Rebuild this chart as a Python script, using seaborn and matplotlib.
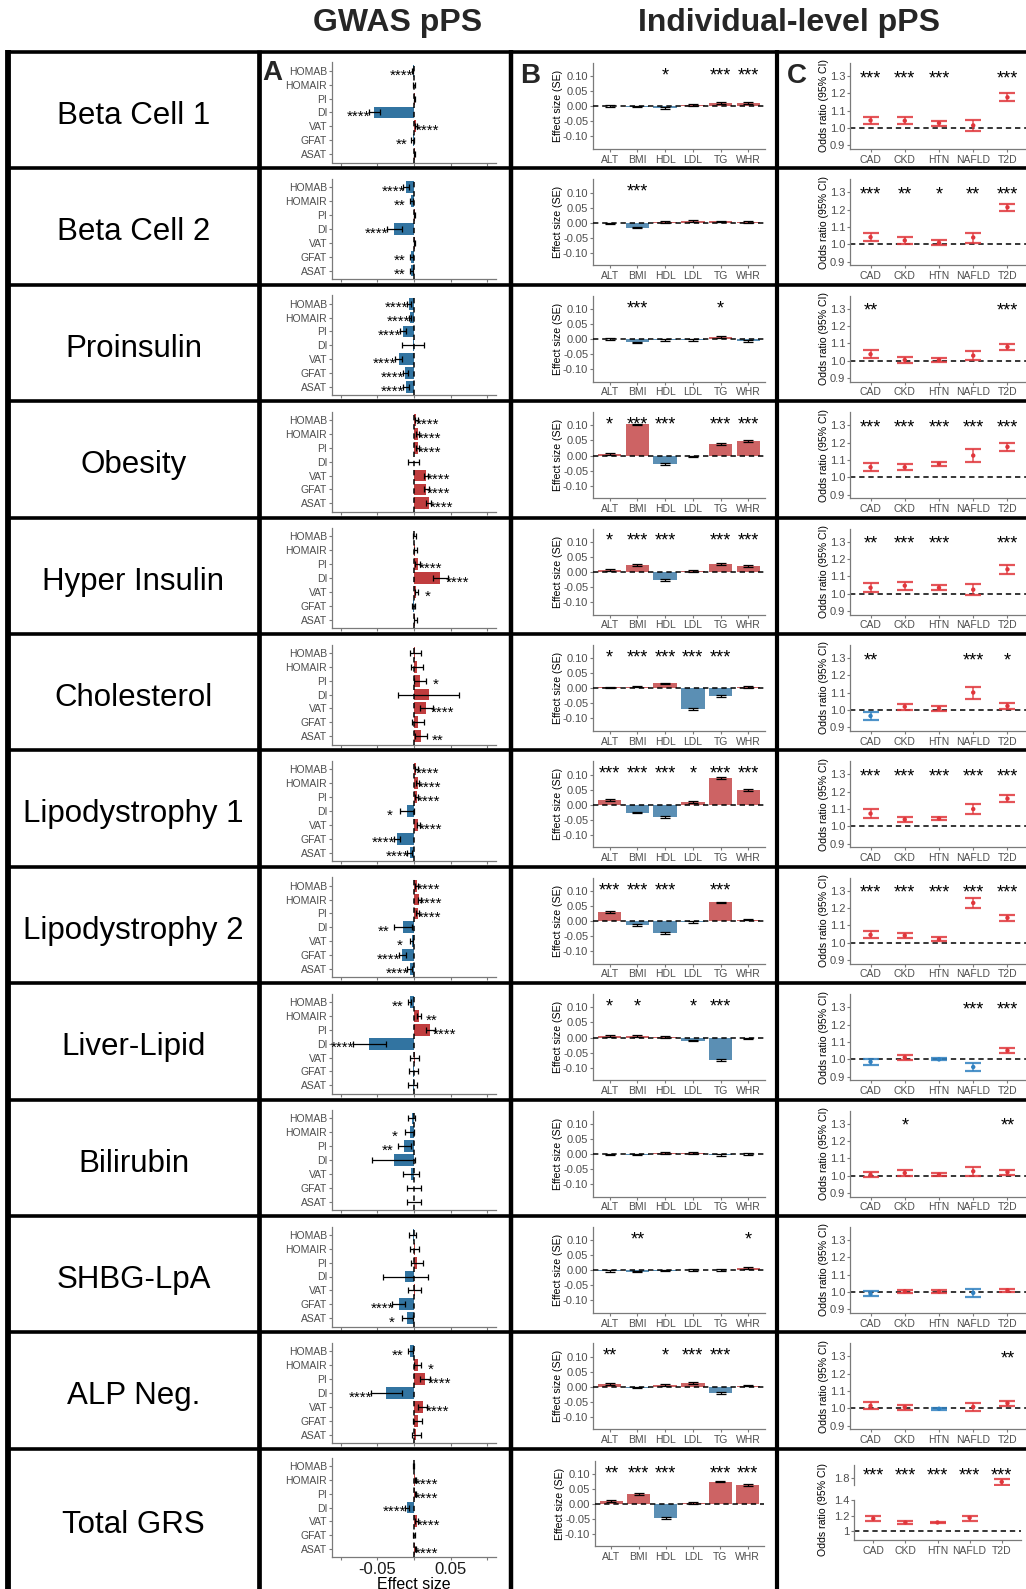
import numpy as np
import pandas as pd
import matplotlib
matplotlib.use("Agg")
import matplotlib.pyplot as plt
import matplotlib.transforms as mtransforms
from matplotlib.lines import Line2D
import seaborn as sns

# ---------------- data ----------------
row_names = ["Beta Cell 1", "Beta Cell 2", "Proinsulin", "Obesity", "Hyper Insulin",
             "Cholesterol", "Lipodystrophy 1", "Lipodystrophy 2", "Liver-Lipid",
             "Bilirubin", "SHBG-LpA", "ALP Neg.", "Total GRS"]
a_traits = ["HOMAB", "HOMAIR", "PI", "DI", "VAT", "GFAT", "ASAT"]
b_traits = ["ALT", "BMI", "HDL", "LDL", "TG", "WHR"]
c_traits = ["CAD", "CKD", "HTN", "NAFLD", "T2D"]

a_effect = [
    [-0.002, 0.000, 0.001, -0.054, 0.003, -0.002, 0.001],
    [-0.011, -0.004, 0.001, -0.027, 0.001, -0.004, -0.004],
    [-0.007, -0.0055, -0.015, -0.002, -0.021, -0.012, -0.011],
    [0.003, 0.005, 0.005, -0.0005, 0.016, 0.017, 0.020],
    [0.0005, 0.002, 0.005, 0.036, 0.003, -0.001, 0.002],
    [0.002, 0.004, 0.008, 0.020, 0.017, 0.005, 0.010],
    [0.003, 0.005, 0.004, -0.0095, 0.006, -0.023, -0.006],
    [0.004, 0.007, 0.005, -0.015, -0.003, -0.016, -0.006],
    [-0.006, 0.007, 0.022, -0.061, 0.001, -0.001, -0.002],
    [-0.003, -0.006, -0.013, -0.028, -0.004, 0.000, 0.000],
    [-0.002, 0.001, 0.004, -0.012, 0.001, -0.021, -0.009],
    [-0.005, 0.005, 0.015, -0.038, 0.012, 0.005, 0.003],
    [-0.0005, 0.002, 0.002, -0.0095, 0.004, 0.000, 0.002],
]
a_se = [
    [0.001, 0.001, 0.001, 0.0075, 0.0015, 0.0015, 0.001],
    [0.0035, 0.002, 0.001, 0.010, 0.001, 0.002, 0.002],
    [0.003, 0.002, 0.0045, 0.015, 0.005, 0.0035, 0.004],
    [0.002, 0.002, 0.002, 0.0073, 0.003, 0.003, 0.003],
    [0.002, 0.002, 0.003, 0.010, 0.002, 0.002, 0.002],
    [0.007, 0.0085, 0.008, 0.042, 0.0085, 0.008, 0.008],
    [0.002, 0.002, 0.002, 0.009, 0.002, 0.004, 0.003],
    [0.002, 0.002, 0.002, 0.012, 0.002, 0.005, 0.003],
    [0.002, 0.003, 0.006, 0.023, 0.0064, 0.006, 0.006],
    [0.005, 0.006, 0.0095, 0.029, 0.011, 0.010, 0.010],
    [0.005, 0.0064, 0.0084, 0.031, 0.0086, 0.0086, 0.0075],
    [0.003, 0.0045, 0.0064, 0.021, 0.0064, 0.0064, 0.006],
    [0.001, 0.001, 0.001, 0.003, 0.002, 0.001, 0.001],
]
a_stars = [
    ["****", "", "", "****", "****", "**", ""],
    ["****", "**", "", "****", "", "**", "**"],
    ["****", "****", "****", "", "****", "****", "****"],
    ["****", "****", "****", "", "****", "****", "****"],
    ["", "", "****", "****", "*", "", ""],
    ["", "", "*", "", "****", "", "**"],
    ["****", "****", "****", "*", "****", "****", "****"],
    ["****", "****", "****", "**", "*", "****", "****"],
    ["**", "**", "****", "****", "", "", ""],
    ["", "*", "**", "", "", "", ""],
    ["", "", "", "", "", "****", "*"],
    ["**", "*", "****", "****", "****", "", ""],
    ["", "****", "****", "****", "****", "", "****"],
]

b_effect = [
    [0.001, -0.001, -0.006, 0.003, 0.011, 0.011],
    [-0.002, -0.017, 0.003, 0.005, 0.004, 0.002],
    [0.000, -0.011, -0.002, -0.002, 0.008, -0.005],
    [0.006, 0.104, -0.027, -0.003, 0.037, 0.047],
    [0.006, 0.022, -0.026, 0.002, 0.026, 0.019],
    [0.003, 0.005, 0.016, -0.070, -0.026, 0.004],
    [0.015, -0.026, -0.042, 0.010, 0.088, 0.050],
    [0.030, -0.012, -0.040, -0.003, 0.062, 0.005],
    [0.005, 0.005, 0.002, -0.010, -0.076, -0.002],
    [-0.001, -0.003, 0.004, 0.002, -0.004, 0.001],
    [-0.002, -0.004, -0.001, 0.001, 0.002, 0.008],
    [0.008, -0.003, 0.006, 0.012, -0.022, 0.003],
    [0.009, 0.032, -0.048, 0.004, 0.075, 0.064],
]
b_se = [
    [0.002, 0.002, 0.003, 0.003, 0.003, 0.003],
    [0.002, 0.002, 0.003, 0.003, 0.003, 0.003],
    [0.002, 0.002, 0.003, 0.003, 0.003, 0.003],
    [0.003, 0.002, 0.003, 0.003, 0.003, 0.003],
    [0.003, 0.003, 0.003, 0.003, 0.004, 0.004],
    [0.002, 0.002, 0.003, 0.003, 0.003, 0.003],
    [0.003, 0.003, 0.003, 0.003, 0.003, 0.003],
    [0.003, 0.003, 0.003, 0.003, 0.003, 0.003],
    [0.002, 0.002, 0.002, 0.003, 0.003, 0.002],
    [0.002, 0.002, 0.003, 0.003, 0.003, 0.003],
    [0.002, 0.002, 0.002, 0.002, 0.003, 0.003],
    [0.003, 0.002, 0.003, 0.003, 0.003, 0.002],
    [0.003, 0.003, 0.003, 0.003, 0.003, 0.004],
]
b_stars = [
    ["", "", "*", "", "***", "***"],
    ["", "***", "", "", "", ""],
    ["", "***", "", "", "*", ""],
    ["*", "***", "***", "", "***", "***"],
    ["*", "***", "***", "", "***", "***"],
    ["*", "***", "***", "***", "***", ""],
    ["***", "***", "***", "*", "***", "***"],
    ["***", "***", "***", "", "***", ""],
    ["*", "*", "", "*", "***", ""],
    ["", "", "", "", "", ""],
    ["", "**", "", "", "", "*"],
    ["**", "", "*", "***", "***", ""],
    ["**", "***", "***", "", "***", "***"],
]

c_or = [
    [1.044, 1.042, 1.028, 1.015, 1.177],
    [1.042, 1.023, 1.010, 1.040, 1.214],
    [1.038, 1.005, 1.005, 1.030, 1.080],
    [1.058, 1.058, 1.077, 1.125, 1.175],
    [1.034, 1.046, 1.034, 1.023, 1.140],
    [0.966, 1.019, 1.010, 1.101, 1.023],
    [1.074, 1.040, 1.046, 1.100, 1.160],
    [1.046, 1.042, 1.021, 1.230, 1.144],
    [0.985, 1.010, 0.999, 0.955, 1.050],
    [1.005, 1.015, 1.005, 1.025, 1.020],
    [0.990, 1.004, 1.002, 0.995, 1.010],
    [1.015, 1.007, 0.998, 1.009, 1.030],
    [1.160, 1.110, 1.110, 1.170, 1.750],
]
c_lo = [
    [1.021, 1.021, 1.011, 0.985, 1.154],
    [1.019, 1.004, 0.998, 1.010, 1.190],
    [1.015, 0.990, 0.995, 1.005, 1.065],
    [1.033, 1.040, 1.063, 1.090, 1.154],
    [1.010, 1.019, 1.019, 0.990, 1.115],
    [0.941, 1.002, 0.996, 1.065, 1.004],
    [1.048, 1.025, 1.035, 1.072, 1.140],
    [1.025, 1.025, 1.008, 1.200, 1.125],
    [0.965, 0.995, 0.993, 0.930, 1.035],
    [0.990, 1.000, 0.998, 1.000, 1.005],
    [0.975, 0.997, 0.995, 0.972, 1.000],
    [0.995, 0.992, 0.990, 0.988, 1.015],
    [1.130, 1.090, 1.100, 1.130, 1.710],
]
c_hi = [
    [1.066, 1.061, 1.038, 1.047, 1.200],
    [1.067, 1.042, 1.023, 1.067, 1.233],
    [1.060, 1.020, 1.015, 1.058, 1.095],
    [1.083, 1.077, 1.090, 1.160, 1.198],
    [1.063, 1.069, 1.050, 1.054, 1.166],
    [0.989, 1.036, 1.023, 1.134, 1.042],
    [1.098, 1.055, 1.056, 1.128, 1.180],
    [1.068, 1.058, 1.034, 1.260, 1.163],
    [1.003, 1.025, 1.006, 0.978, 1.065],
    [1.020, 1.030, 1.013, 1.050, 1.035],
    [1.005, 1.012, 1.010, 1.020, 1.020],
    [1.035, 1.022, 1.005, 1.030, 1.045],
    [1.190, 1.130, 1.120, 1.200, 1.790],
]
c_stars = [
    ["***", "***", "***", "", "***"],
    ["***", "**", "*", "**", "***"],
    ["**", "", "", "", "***"],
    ["***", "***", "***", "***", "***"],
    ["**", "***", "***", "", "***"],
    ["**", "", "", "***", "*"],
    ["***", "***", "***", "***", "***"],
    ["***", "***", "***", "***", "***"],
    ["", "", "", "***", "***"],
    ["", "*", "", "", "**"],
    ["", "", "", "", ""],
    ["", "", "", "", "**"],
    ["***", "***", "***", "***", "***"],
]

# ---------------- style ----------------
sns.set_theme(style="white")
plt.rcParams["font.family"] = ["Liberation Sans", "DejaVu Sans"]

A_RED, A_BLUE = "#D62728", "#1F77B4"
B_RED, B_BLUE = "#DE5253", "#4C92C3"
C_RED, C_BLUE = "#E0363B", "#2F80C0"
SPINE = "#7a7a7a"
TICKLAB = "#4D4D4D"
A_STAR, BC_STAR = 11, 13

W, H = 1026, 1589
fig = plt.figure(figsize=(W / 100, H / 100), dpi=100)
fig.patch.set_facecolor("white")


def px_axes(l, t, r, b):
    return fig.add_axes([l / W, 1 - b / H, (r - l) / W, (b - t) / H])


def style(ax):
    sns.despine(ax=ax)
    for s in ["left", "bottom"]:
        ax.spines[s].set_color(SPINE)
        ax.spines[s].set_linewidth(0.9)
    ax.tick_params(axis="both", which="both", colors=SPINE, length=2.5, width=0.8,
                   labelcolor=TICKLAB, pad=1, left=True, bottom=True)
    ax.set_facecolor("none")
    ax.grid(False)
    ax.set_xlabel("")
    ax.set_ylabel("")


def star_text(ax, x, y, s, fs):
    tr = mtransforms.offset_copy(ax.transData, fig=fig, x=0, y=-0.56 * fs, units="points")
    ax.text(x, y, s, transform=tr, ha="center", va="baseline", fontsize=fs,
            color="black", clip_on=False)


def draw_a(ax, k, last=False):
    eff = np.array(a_effect[k])
    se = np.array(a_se[k])
    df = pd.DataFrame({"trait": a_traits, "effect": eff,
                       "dir": np.where(eff >= 0, "pos", "neg")})
    sns.barplot(data=df, x="effect", y="trait", hue="dir", order=a_traits,
                palette={"pos": A_RED, "neg": A_BLUE}, dodge=False, legend=False,
                width=0.85, errorbar=None, orient="h", ax=ax, linewidth=0)
    pos = np.arange(len(a_traits))
    ax.errorbar(eff, pos, xerr=se, fmt="none", ecolor="black", elinewidth=0.9,
                capsize=2.0, capthick=0.9, zorder=4)
    ax.axvline(0, color="black", lw=1.1, ls=(0, (3.5, 2.5)), zorder=5)
    for i, s in enumerate(a_stars[k]):
        if s:
            xs = eff[i] + se[i] + 0.014 if eff[i] >= 0 else eff[i] - se[i] - 0.014
            star_text(ax, xs, i, s, A_STAR)
    ax.set_xlim(-0.112, 0.112)
    ax.set_ylim(6.6, -0.6)
    style(ax)
    ax.set_xticks([-0.1, -0.05, 0, 0.05, 0.1])
    ax.tick_params(axis="y", labelsize=7.5)
    if last:
        ax.set_xticklabels(["", "-0.05", "", "0.05", ""], fontsize=12, color="#1a1a1a")
        ax.set_xlabel("Effect size", fontsize=11.5, color="black", labelpad=0)
    else:
        ax.set_xticklabels([])


def draw_b(ax, k):
    eff = np.array(b_effect[k])
    se = np.array(b_se[k])
    df = pd.DataFrame({"trait": b_traits, "effect": eff,
                       "dir": np.where(eff >= 0, "pos", "neg")})
    sns.barplot(data=df, x="trait", y="effect", hue="dir", order=b_traits,
                palette={"pos": B_RED, "neg": B_BLUE}, dodge=False, legend=False,
                width=0.85, errorbar=None, ax=ax, linewidth=0)
    pos = np.arange(len(b_traits))
    ax.errorbar(pos, eff, yerr=se, fmt="none", ecolor="black", elinewidth=0.9,
                capsize=3.6, capthick=0.9, zorder=4)
    ax.axhline(0, color="black", lw=1.1, ls=(0, (3.5, 2.5)), zorder=5)
    for i, s in enumerate(b_stars[k]):
        if s:
            star_text(ax, i, 0.12, s, BC_STAR)
    ax.set_xlim(-0.6, 5.6)
    ax.set_ylim(-0.142, 0.144)
    style(ax)
    ax.set_yticks([-0.10, -0.05, 0.0, 0.05, 0.10])
    ax.set_yticklabels(["-0.10", "-0.05", "0.00", "0.05", "0.10"])
    ax.tick_params(axis="y", labelsize=8)
    ax.tick_params(axis="x", labelsize=7.5, pad=1.5)
    ax.set_ylabel("Effect size (SE)", fontsize=7.6, color="black")
    ax.yaxis.set_label_coords(-0.175, 0.5)


def draw_c_points(ax, k):
    orv = np.array(c_or[k])
    lo = np.array(c_lo[k])
    hi = np.array(c_hi[k])
    pos = np.arange(len(c_traits))
    dirs = np.where(orv >= 1, "pos", "neg")
    for i in pos:
        col = C_RED if dirs[i] == "pos" else C_BLUE
        ax.errorbar([i], [orv[i]], yerr=[[orv[i] - lo[i]], [hi[i] - orv[i]]], fmt="none",
                    ecolor=col, elinewidth=1.1, capsize=6.0, capthick=1.6, alpha=0.85,
                    zorder=3)
    df = pd.DataFrame({"x": pos, "or": orv, "dir": dirs})
    sns.scatterplot(data=df, x="x", y="or", hue="dir", palette={"pos": C_RED, "neg": C_BLUE},
                    s=10, linewidth=0, legend=False, ax=ax, zorder=4)
    ax.axhline(1.0, color="black", lw=1.1, ls=(0, (3.5, 2.5)), zorder=2)
    ax.set_xlim(-0.6, 4.6)


def draw_c(ax, k):
    draw_c_points(ax, k)
    for i, s in enumerate(c_stars[k]):
        if s:
            star_text(ax, i, 1.318, s, BC_STAR)
    ax.set_ylim(0.879, 1.375)
    style(ax)
    ax.set_xticks(range(len(c_traits)))
    ax.set_xticklabels(c_traits)
    ax.set_yticks([0.9, 1.0, 1.1, 1.2, 1.3])
    ax.set_yticklabels(["0.9", "1.0", "1.1", "1.2", "1.3"])
    ax.tick_params(axis="y", labelsize=8)
    ax.tick_params(axis="x", labelsize=7.5, pad=1.5)
    ax.set_ylabel("Odds ratio (95% CI)", fontsize=7.6, color="black")
    ax.yaxis.set_label_coords(-0.118, 0.5)


# ---------------- layout ----------------
row_tops = [52 + 116.4 * k for k in range(13)]
nrows = len(row_names)

for k in range(nrows):
    T = row_tops[k]
    last = k == nrows - 1
    if not last:
        axA = px_axes(332, T + 10.5, 496, T + 110.5)
        axB = px_axes(593, T + 11, 765, T + 97)
        axC = px_axes(850, T + 11, 1028, T + 97)
        draw_a(axA, k)
        draw_b(axB, k)
        draw_c(axC, k)
        cy = T + 58
    else:
        axA = px_axes(332, 1458, 496, 1557)
        axB = px_axes(595, 1461, 764, 1546)
        draw_a(axA, k, last=True)
        draw_b(axB, k)
        # broken y axis for C
        axCu = px_axes(854, 1465, 1021, 1485)
        axCl = px_axes(854, 1500, 1021, 1540)
        draw_c_points(axCu, k)
        draw_c_points(axCl, k)
        for i, s in enumerate(c_stars[k]):
            if s:
                star_text(axCu, i, 1.905, s, BC_STAR)
        axCu.set_ylim(1.71, 1.968)
        axCl.set_ylim(0.884, 1.40)
        style(axCu)
        style(axCl)
        axCu.spines["bottom"].set_visible(False)
        axCu.set_xticks([])
        axCu.set_yticks([1.8])
        axCu.set_yticklabels(["1.8"])
        axCu.tick_params(axis="y", labelsize=8)
        axCl.set_xticks(range(len(c_traits)))
        axCl.set_xticklabels(c_traits)
        axCl.set_yticks([1.0, 1.2, 1.4])
        axCl.set_yticklabels(["1", "1.2", "1.4"])
        axCl.tick_params(axis="y", labelsize=8)
        axCl.tick_params(axis="x", labelsize=7.5, pad=1.5)
        fig.text(823 / W, 1 - 1509 / H, "Odds ratio (95% CI)", rotation=90,
                 ha="center", va="center", fontsize=7.6, color="black")
        cy = (1449 + 1589) / 2
    fig.text(133.5 / W, 1 - (cy + 6) / H, row_names[k], ha="center", va="center",
             fontsize=22.5, color="black")

# panel letters
fig.text(262 / W, 1 - 60 / H, "A", fontsize=20, weight="bold", ha="left", va="top")
fig.text(520 / W, 1 - 63 / H, "B", fontsize=20, weight="bold", ha="left", va="top")
fig.text(787 / W, 1 - 63 / H, "C", fontsize=20, weight="bold", ha="left", va="top")

# headers
fig.text(398 / W, 1 - 23 / H, "GWAS pPS", fontsize=23, weight="bold",
         ha="center", va="center")
fig.text(789 / W, 1 - 23 / H, "Individual-level pPS", fontsize=23, weight="bold",
         ha="center", va="center")

# table grid
for y in row_tops:
    fig.add_artist(Line2D([6 / W, 1.0], [1 - y / H, 1 - y / H], transform=fig.transFigure,
                          color="black", lw=2.6, solid_capstyle="butt"))
for x, lw in [(8, 4.2), (259, 3.4), (511, 3.2), (777, 3.0)]:
    fig.add_artist(Line2D([x / W, x / W], [1 - 50 / H, 0], transform=fig.transFigure,
                          color="black", lw=lw, solid_capstyle="butt"))

fig.savefig("out.png", dpi=100, facecolor="white")
